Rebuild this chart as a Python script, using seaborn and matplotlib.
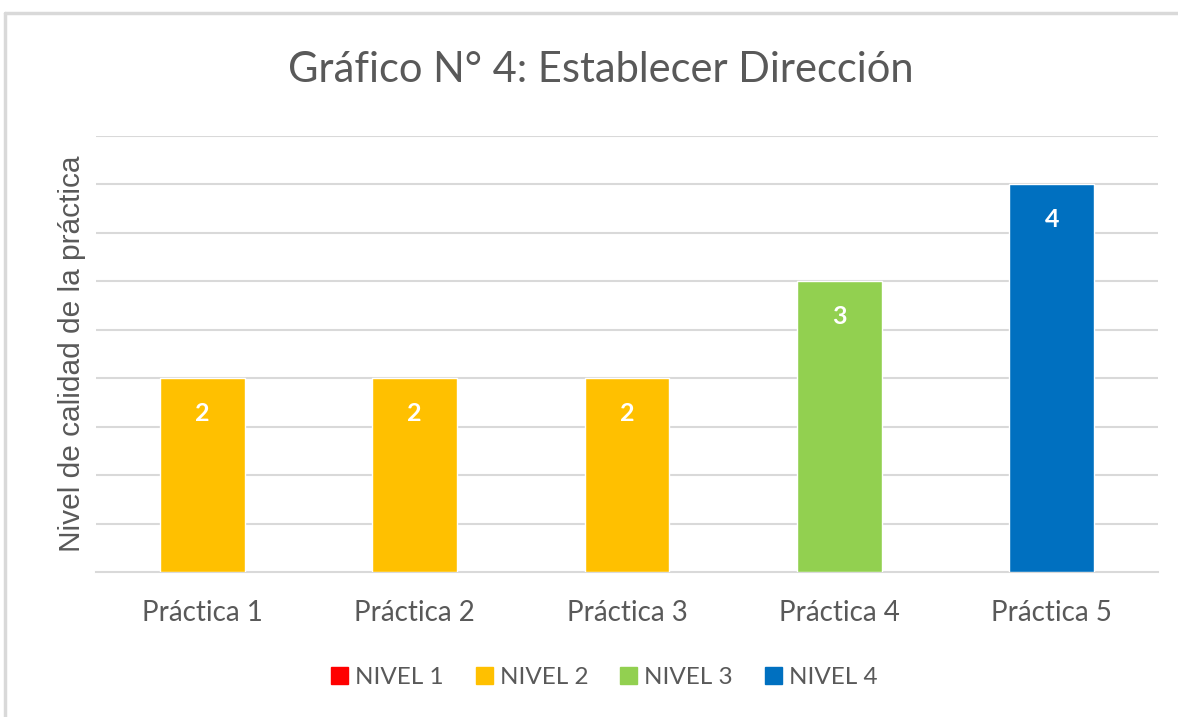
import matplotlib
matplotlib.use('Agg')
import matplotlib.pyplot as plt
import matplotlib.patches as mpatches
import seaborn as sns
import pandas as pd

practicas = ['Práctica 1', 'Práctica 2', 'Práctica 3', 'Práctica 4', 'Práctica 5']
valores = [2, 2, 2, 3, 4]
niveles = ['NIVEL 2', 'NIVEL 2', 'NIVEL 2', 'NIVEL 3', 'NIVEL 4']
orden_niveles = ['NIVEL 1', 'NIVEL 2', 'NIVEL 3', 'NIVEL 4']
colores = {'NIVEL 1': '#FF0000', 'NIVEL 2': '#FFC000',
           'NIVEL 3': '#92D050', 'NIVEL 4': '#0070C0'}

df = pd.DataFrame({'practica': practicas, 'valor': valores, 'nivel': niveles})

sns.set_style('white')
plt.rcParams['font.family'] = ['Lato', 'DejaVu Sans']
gris = '#595959'

fig = plt.figure(figsize=(11.78, 7.17), dpi=100)
ax = fig.add_axes([0.0815, 0.2022, 0.9015, 0.6081])

sns.barplot(x='practica', y='valor', hue='nivel', hue_order=orden_niveles,
            palette=colores, data=df, dodge=False, width=0.4, saturation=1,
            legend=False, ax=ax, zorder=3)

for c in ax.containers:
    for bar in c:
        h = bar.get_height()
        if h and h == h:
            ax.text(bar.get_x() + bar.get_width() / 2, h - 0.36, f'{int(h)}',
                    ha='center', va='center', color='white',
                    fontsize=18, fontweight='bold')

ax.set_ylim(0, 4.5)
ax.set_xlim(-0.5, 4.5)
ax.set_yticks([i * 0.5 for i in range(1, 10)])
ax.set_yticklabels([])
ax.tick_params(axis='y', length=0)
ax.yaxis.grid(True, color='#D9D9D9', linewidth=1.5, zorder=0)
ax.set_axisbelow(True)

# Excel-style ticks between categories
ax.set_xticks(range(len(practicas)))
ax.set_xticklabels(practicas, fontsize=20, color=gris)
ax.tick_params(axis='x', length=0, pad=20)
ax.set_xticks([i - 0.5 for i in range(len(practicas) + 1)], minor=True)
ax.tick_params(axis='x', which='minor', length=6, width=1.5, color='#D9D9D9',
               direction='out')

for s in ['top', 'right', 'left']:
    ax.spines[s].set_visible(False)
ax.spines['bottom'].set_color('#D9D9D9')
ax.spines['bottom'].set_linewidth(1.5)

ax.set_xlabel('')
ax.set_ylabel('Nivel de calidad de la práctica', fontsize=21.5, color=gris,
              labelpad=4, family=['Liberation Sans', 'DejaVu Sans'])

fig.text(0.51, 0.902, 'Gráfico N° 4: Establecer Dirección', ha='center',
         va='center', fontsize=30, color=gris)

handles = [mpatches.Patch(color=colores[n], label=n) for n in orden_niveles]
fig.legend(handles=handles, loc='center', bbox_to_anchor=(0.513, 0.055),
           ncol=4, frameon=False, fontsize=17.5, labelcolor=gris,
           handlelength=0.7, handleheight=0.7, handletextpad=0.3,
           columnspacing=1.3)

# chart area border (top/left visible in reference)
fig.add_artist(plt.Line2D([0.004, 1.0], [0.982, 0.982], color='#D9D9D9',
                          linewidth=2.5, transform=fig.transFigure))
fig.add_artist(plt.Line2D([0.004, 0.004], [0.0, 0.982], color='#D9D9D9',
                          linewidth=2.5, transform=fig.transFigure))

fig.savefig('out.png', dpi=100)
